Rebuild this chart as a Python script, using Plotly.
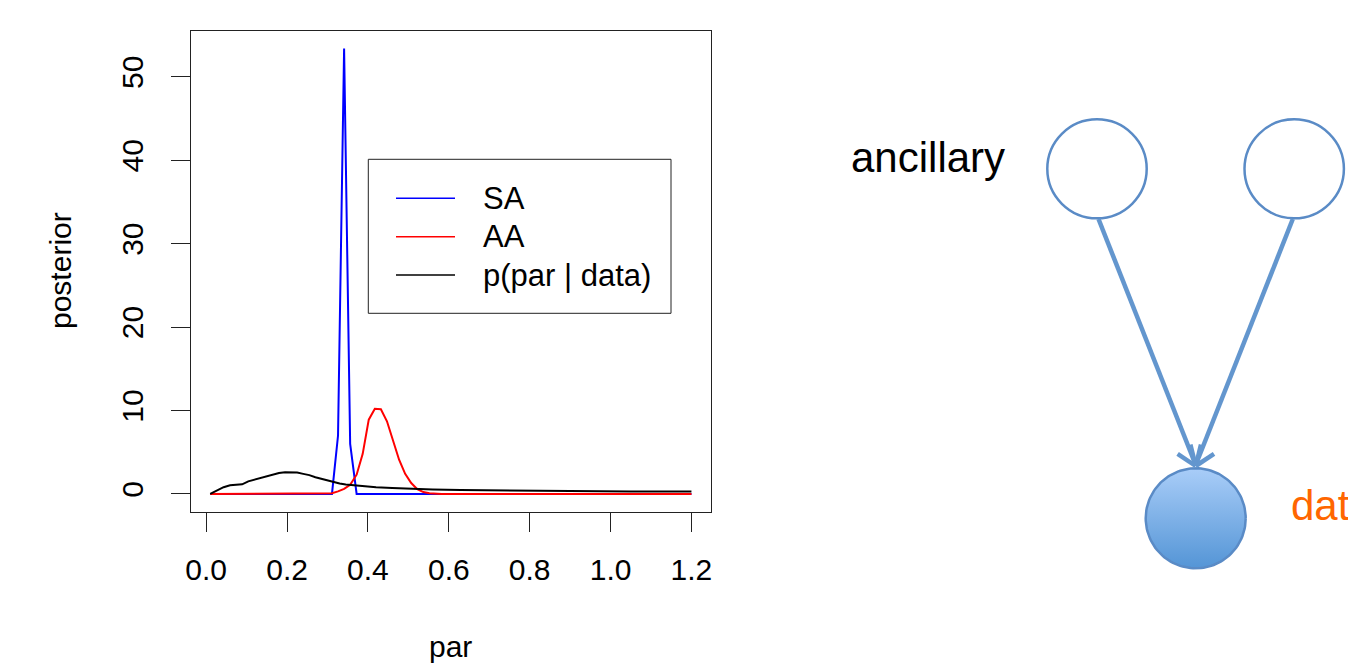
import numpy as np
import plotly.graph_objects as go

# ---------------- data ----------------
x_ticks = [0.0, 0.2, 0.4, 0.6, 0.8, 1.0, 1.2]
x_tick_labels = ["0.0", "0.2", "0.4", "0.6", "0.8", "1.0", "1.2"]
y_ticks = [0, 10, 20, 30, 40, 50]
y_tick_labels = ["0", "10", "20", "30", "40", "50"]

sa_x = [0.010, 0.311, 0.326, 0.341, 0.356, 0.372, 1.200]
sa_y = [0.0, 0.0, 7.0, 53.4, 6.0, 0.0, 0.0]

aa_x = [0.010, 0.296, 0.311, 0.326, 0.341, 0.356, 0.372, 0.387, 0.402, 0.417,
        0.432, 0.447, 0.462, 0.477, 0.492, 0.507, 0.522, 0.537, 0.552, 0.567,
        0.582, 1.200]
aa_y = [0.0, 0.0, 0.08, 0.3, 0.6, 1.1, 2.3, 4.8, 8.9, 10.2,
        10.15, 8.7, 6.4, 4.1, 2.4, 1.3, 0.56, 0.22, 0.08, 0.02,
        0.0, 0.0]

post_x = [0.010, 0.025, 0.043, 0.059, 0.074, 0.089, 0.104, 0.119, 0.134, 0.149,
          0.165, 0.180, 0.195, 0.210, 0.225, 0.240, 0.255, 0.270, 0.285, 0.300,
          0.315, 0.330, 0.345, 0.360, 0.380, 0.420, 0.460, 0.505, 0.560, 0.629,
          0.750, 0.900, 1.050, 1.200]
post_y = [0.0, 0.4, 0.8, 1.04, 1.08, 1.15, 1.5, 1.7, 1.84, 2.1,
          2.3, 2.5, 2.58, 2.6, 2.55, 2.4, 2.25, 2.0, 1.8, 1.6,
          1.45, 1.25, 1.12, 1.05, 0.95, 0.8, 0.7, 0.6, 0.53, 0.48,
          0.40, 0.34, 0.30, 0.28]

series_names = ["SA", "AA", "p(par | data)"]
series_colors = ["#0000FF", "#FF0000", "#000000"]

# ---------------- layout helpers ----------------
W, H = 1348, 664
FONT = "Liberation Sans, Arial, Helvetica, sans-serif"


def px(x):
    return x / W


def py(y):
    return 1 - y / H


box_l, box_r, box_t, box_b = 191.0, 710.7, 30.7, 511.7
axis_col = "#222222"

fig = go.Figure()
for xs, ys, name, col in zip([sa_x, aa_x, post_x], [sa_y, aa_y, post_y], series_names, series_colors):
    fig.add_trace(go.Scatter(x=xs, y=ys, mode="lines", name=name,
                             line=dict(color=col, width=2), showlegend=False,
                             xaxis="x", yaxis="y"))

# ---- diagram (pixel-coordinate overlay axes) ----
node_col = "#5A8BC6"
arrow_col = "#6396CE"
t = np.linspace(0, 2 * np.pi, 121)
bx, by, br = 1195.7, 518.3, 50.0
fig.add_trace(go.Scatter(x=bx + br * np.cos(t), y=by + br * np.sin(t), mode="lines",
                         fill="toself", line=dict(color=node_col, width=2.5),
                         fillgradient=dict(type="vertical", start=by - br, stop=by + br,
                                           colorscale=[[0, "#A9CDF8"], [1, "#5495D6"]]),
                         hoverinfo="skip", showlegend=False, xaxis="x2", yaxis="y2"))

shapes = []
for cx in (1097.0, 1294.2):
    shapes.append(dict(type="circle", xref="x2", yref="y2", x0=cx - 49.7, x1=cx + 49.7,
                       y0=168.8 - 49.5, y1=168.8 + 49.5, line=dict(color=node_col, width=2.5),
                       fillcolor="white", layer="above"))
# arrows
arrows = [((1098.5, 219.0), (1195.7, 465.0)), ((1292.8, 219.0), (1195.7, 465.0))]
for (x0, y0), (x1, y1) in arrows:
    shapes.append(dict(type="line", xref="x2", yref="y2", x0=x0, y0=y0, x1=x1, y1=y1,
                       line=dict(color=arrow_col, width=4.5), layer="above"))
heads = [(1177.6, 453.9), (1201.0, 444.6), (1214.0, 453.9), (1190.4, 444.6)]
for hx, hy in heads:
    shapes.append(dict(type="line", xref="x2", yref="y2", x0=1195.7, y0=466.0, x1=hx, y1=hy,
                       line=dict(color=arrow_col, width=4.5), layer="above"))

# ---- manual legend (R style) ----
leg_l, leg_r, leg_t, leg_b = 368.3, 671.0, 159.3, 313.3
shapes.append(dict(type="rect", xref="paper", yref="paper", x0=px(leg_l), x1=px(leg_r),
                   y0=py(leg_b), y1=py(leg_t), line=dict(color=axis_col, width=1),
                   fillcolor="white", layer="above"))
leg_rows = [198.3, 236.7, 275.0]
annotations = []
for yy, name, col in zip(leg_rows, series_names, series_colors):
    shapes.append(dict(type="line", xref="paper", yref="paper", x0=px(396), x1=px(455),
                       y0=py(yy), y1=py(yy), line=dict(color=col, width=1.5), layer="above"))
    annotations.append(dict(text=name, xref="paper", yref="paper", x=px(481), y=py(yy),
                            xanchor="left", yanchor="middle", showarrow=False,
                            font=dict(family=FONT, size=31, color="black")))

# axis titles
annotations.append(dict(text="posterior", xref="paper", yref="paper", x=px(60), y=py(271),
                        textangle=-90, showarrow=False, xanchor="center", yanchor="middle",
                        font=dict(family=FONT, size=30, color="black")))
annotations.append(dict(text="par", xref="paper", yref="paper", x=px(451), y=py(646),
                        showarrow=False, xanchor="center", yanchor="middle",
                        font=dict(family=FONT, size=30, color="black")))
# diagram labels
annotations.append(dict(text="ancillary", xref="paper", yref="paper", x=px(849), y=py(158),
                        showarrow=False, xanchor="left", yanchor="middle",
                        font=dict(family=FONT, size=42, color="black")))
annotations.append(dict(text="data", xref="paper", yref="paper", x=px(1289), y=py(505),
                        showarrow=False, xanchor="left", yanchor="middle",
                        font=dict(family=FONT, size=42, color="#FF6600")))

fig.update_layout(
    width=W, height=H,
    margin=dict(l=0, r=0, t=0, b=0, pad=0),
    paper_bgcolor="white", plot_bgcolor="rgba(0,0,0,0)",
    showlegend=False,
    font=dict(family=FONT, size=30, color="black"),
    xaxis=dict(domain=[px(box_l), px(box_r)], range=[-0.0376, 1.2476],
               tickvals=x_ticks, ticktext=x_tick_labels, ticks="outside", ticklen=19,
               tickwidth=1, tickcolor=axis_col, showline=True, mirror=True, linecolor=axis_col,
               linewidth=1, showgrid=False, zeroline=False, automargin=False,
               tickfont=dict(family=FONT, size=30, color="black"), ticklabelstandoff=12),
    yaxis=dict(domain=[py(box_b), py(box_t)], range=[-2.136, 55.536],
               tickvals=y_ticks, ticktext=y_tick_labels, ticks="outside", ticklen=19,
               tickwidth=1, tickcolor=axis_col, showline=True, mirror=True, linecolor=axis_col,
               linewidth=1, showgrid=False, zeroline=False, automargin=False, tickangle=-90,
               tickfont=dict(family=FONT, size=30, color="black"), ticklabelstandoff=16),
    xaxis2=dict(domain=[0, 1], range=[0, W], visible=False, anchor="y2", fixedrange=True),
    yaxis2=dict(domain=[0, 1], range=[H, 0], visible=False, anchor="x2", fixedrange=True),
    shapes=shapes,
    annotations=annotations,
)

fig.write_html("out.html", config={"displayModeBar": False},
               post_script="document.body.style.margin='0px';")
